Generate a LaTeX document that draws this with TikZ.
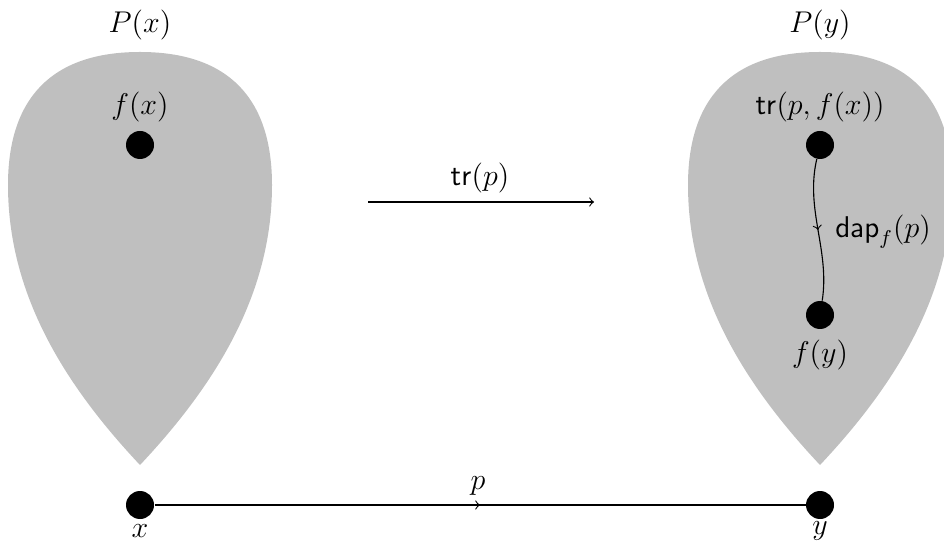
\documentclass[tikz,border=0pt]{standalone}
\usetikzlibrary{decorations.markings}
\begin{document}
\begin{tikzpicture}[x=0.4pt,y=-0.4pt,
  blob/.style={fill=black!25, draw=none},
  dot/.style={circle, fill=black, inner sep=0pt, minimum size=11.2pt},
  conn/.style={line width=0.45pt},
  midarrow/.style={postaction={decorate}, decoration={markings, mark=at position 0.5 with {\arrow{>}}}},
  lbl/.style={inner sep=1pt, font=\large}]
\useasboundingbox (0,0) rectangle (944,544);
\clip (0,0) rectangle (944,544);
% blobs
\foreach \dx in {0,680}{
  \fill[blob] (140+\dx,465) .. controls (60+\dx,380) and (8+\dx,290) .. (8+\dx,185)
    .. controls (8+\dx,100) and (50+\dx,52) .. (140+\dx,52)
    .. controls (230+\dx,52) and (272+\dx,100) .. (272+\dx,185)
    .. controls (272+\dx,290) and (220+\dx,380) .. (140+\dx,465) -- cycle;
}
% dots
\node[dot] (fx) at (140,145) {};
\node[dot] (x) at (140,505) {};
\node[dot] (y) at (820,505) {};
\node[dot] (trp) at (820,145) {};
\node[dot] (fy) at (820,315) {};
% labels
\node[lbl] (Px) at (140,25) {$P(x)$};
\node[lbl] (Py) at (820,25) {$P(y)$};
\node[lbl] (fxl) at (140,107) {$f(x)$};
\node[lbl] (trpl) at (820,107) {$\mathsf{tr}(p,f(x))$};
\node[lbl] (fyl) at (820,355) {$f(y)$};
\node[lbl] (xl) at (140,531) {$x$};
\node[lbl] (yl) at (820,531) {$y$};
% connectors
\draw[conn, midarrow] (x) -- (y);
\node[lbl] (pl) at (478,486) {$p$};
\coordinate (ta) at (368,202);
\coordinate (tb) at (594,202);
\draw[conn, ->] (ta) -- (tb);
\node[lbl] (trl) at (480,178) {$\mathsf{tr}(p)$};
\draw[conn, midarrow] (trp) .. controls (805,210) and (830,250) .. (fy);
\node[lbl] (dapl) at (883,232) {$\mathsf{dap}_f(p)$};
\end{tikzpicture}
\end{document}
